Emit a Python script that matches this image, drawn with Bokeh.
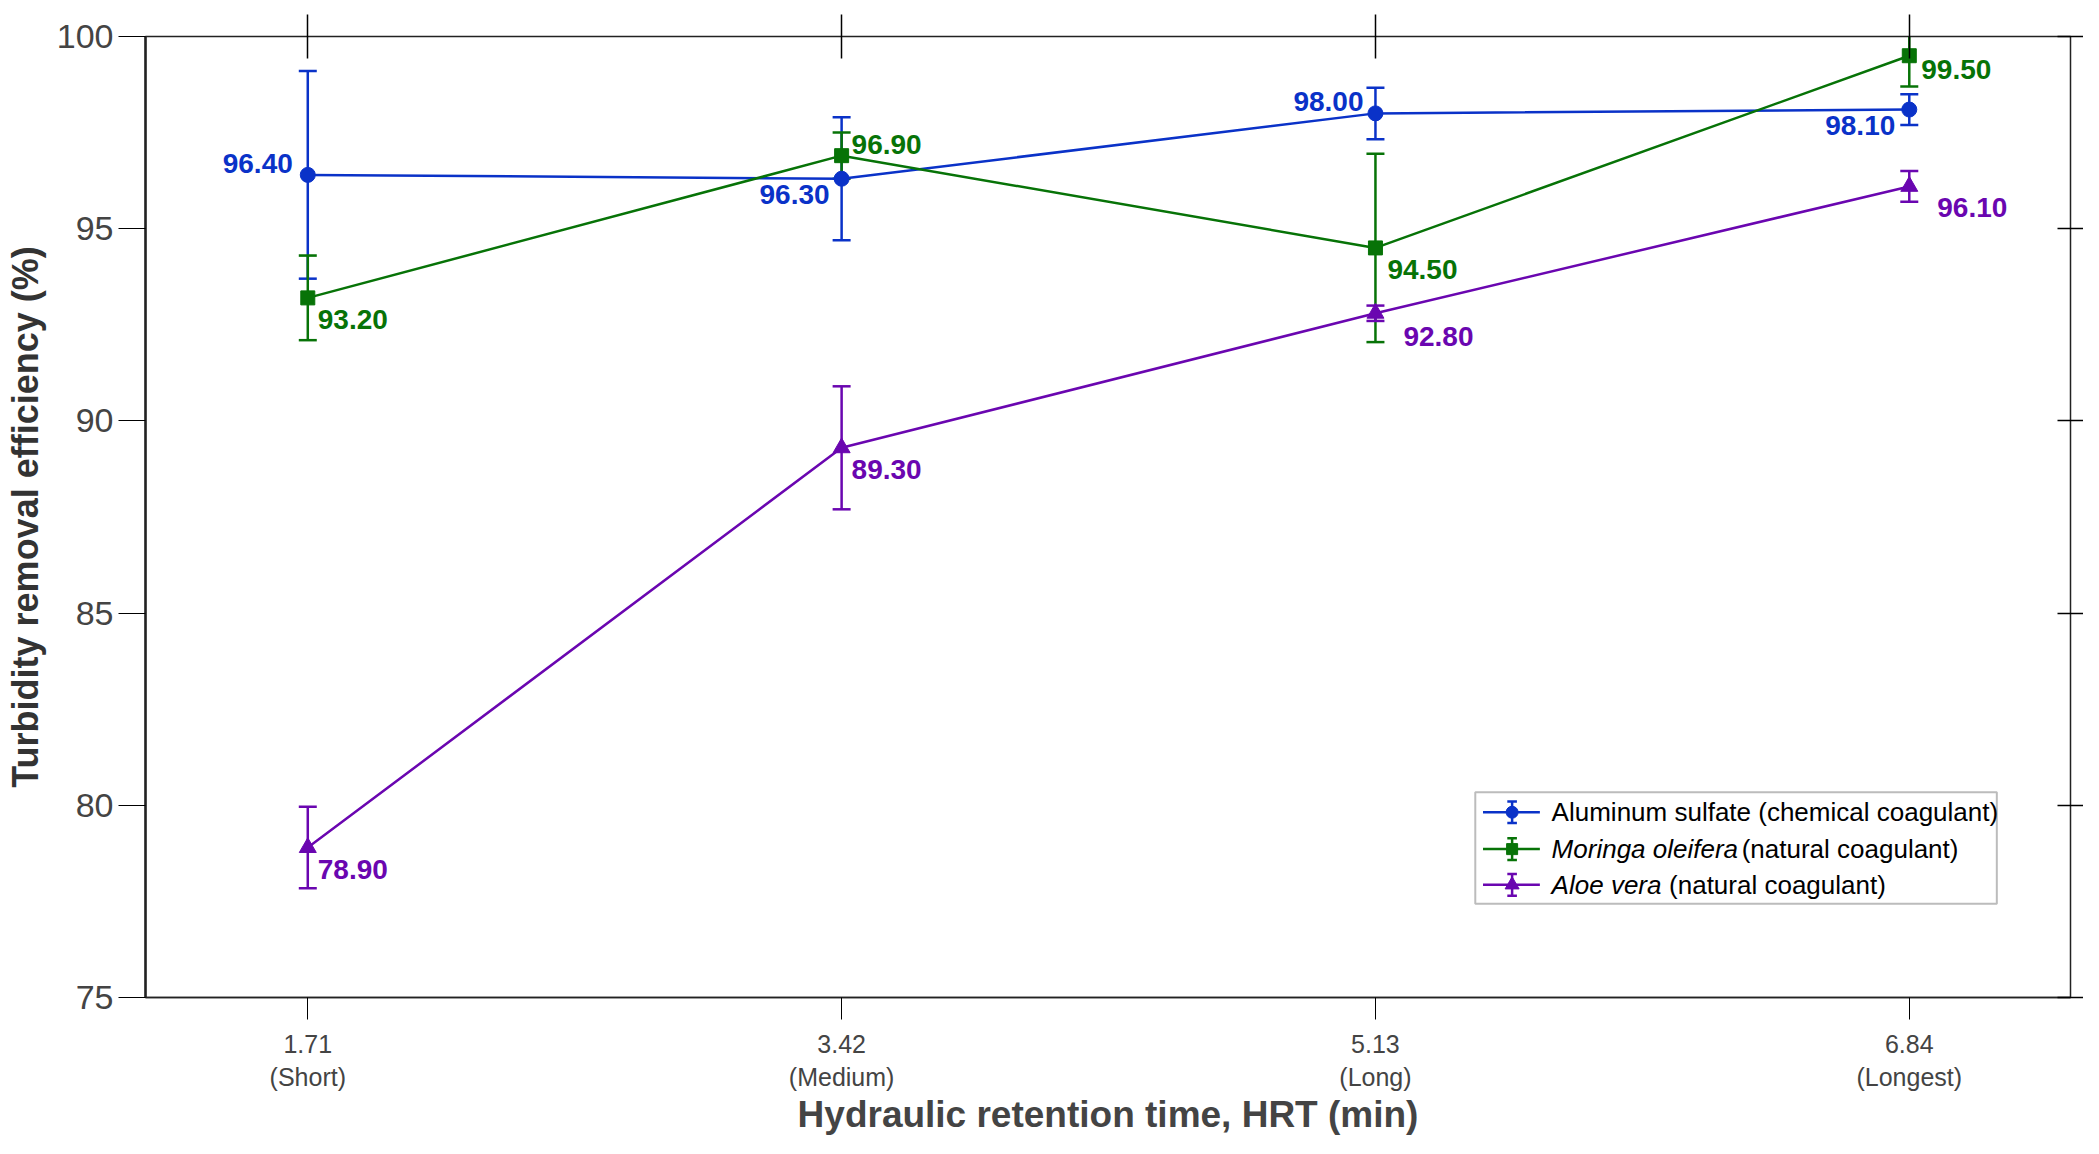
from bokeh.plotting import figure
from bokeh.models import LinearAxis, FixedTicker, ColumnDataSource, Whisker, BoxAnnotation, Range1d
from bokeh.core.properties import value
from bokeh.embed import file_html
from bokeh.resources import INLINE

hrt_labels = ["1.71\n(Short)", "3.42\n(Medium)", "5.13\n(Long)", "6.84\n(Longest)"]
xpos = [0, 1, 2, 3]
alum = [96.4, 96.3, 98.0, 98.1]
alum_err = [2.7, 1.6, 0.67, 0.4]
moringa = [93.2, 96.9, 94.5, 99.5]
moringa_err = [1.1, 0.6, 2.45, 0.8]
aloe = [78.9, 89.3, 92.8, 96.1]
aloe_err = [1.06, 1.6, 0.2, 0.4]

FONT = "Liberation Sans"
p = figure(width=2083, height=1138, output_backend="svg", toolbar_location=None,
           x_range=Range1d(-0.304, 3.302), y_range=Range1d(75, 100),
           min_border_left=145, min_border_right=4, min_border_top=36, min_border_bottom=2)
p.grid.visible = False
p.outline_line_color = "#222222"
p.outline_line_width = 1.5

series = [
    ("alum", alum, alum_err, "#0a32c8", "circle", 15, [(-15, 2, "right", "bottom"), (-12, -6, "right", "top"), (-12, 2, "right", "bottom"), (-14, -6, "right", "top")]),
    ("mor", moringa, moringa_err, "#077307", "square", 14, [(10, -12, "left", "top"), (10, 2, "left", "bottom"), (12, -12, "left", "top"), (12, -4, "left", "top")]),
    ("aloe", aloe, aloe_err, "#6a06b0", "triangle", 17, [(10, -12, "left", "top"), (10, -12, "left", "top"), (28, -14, "left", "top"), (28, -12, "left", "top")]),
]
for name, ys, err, col, mk, sz, offs in series:
    src = ColumnDataSource(dict(x=xpos, y=ys, lo=[a - b for a, b in zip(ys, err)], hi=[a + b for a, b in zip(ys, err)],
                                t=["%.2f" % v for v in ys], xo=[o[0] for o in offs], yo=[-o[1] for o in offs],
                                ta=[o[2] for o in offs], tb=[o[3] for o in offs]))
    p.line("x", "y", source=src, line_color=col, line_width=2.5)
    w = Whisker(base="x", lower="lo", upper="hi", source=src, line_color=col, line_width=2.5)
    w.upper_head.size = 18; w.lower_head.size = 18
    w.upper_head.line_color = col; w.lower_head.line_color = col
    w.upper_head.line_width = 2.5; w.lower_head.line_width = 2.5
    p.add_layout(w)
    p.scatter("x", "y", source=src, marker=mk, size=sz, color=col)
    p.text("x", "y", text="t", source=src, x_offset="xo", y_offset="yo", text_align="ta", text_baseline="tb",
           text_color=col, text_font=value(FONT), text_font_style="bold", text_font_size="28px")

ax = p.xaxis[0]
ax.ticker = FixedTicker(ticks=xpos)
ax.major_label_overrides = {i: l for i, l in zip(xpos, hrt_labels)}
ax.major_label_text_font = FONT
ax.major_label_text_font_size = "25px"
ax.major_label_standoff = 10
ax.major_tick_out = 22; ax.major_tick_in = 0
ax.minor_tick_line_color = None
ax.axis_line_color = "#222222"; ax.axis_line_width = 1.5
ax.axis_label = "Hydraulic retention time, HRT (min)"
ax.axis_label_text_font = FONT; ax.axis_label_text_font_style = "bold"
ax.axis_label_text_font_size = "37px"; ax.axis_label_text_color = "#444444"
ax.axis_label_standoff = 0

ay = p.yaxis[0]
ay.ticker = FixedTicker(ticks=[75, 80, 85, 90, 95, 100])
ay.major_label_text_font = FONT; ay.major_label_text_font_size = "34px"
ay.major_label_text_color = "#444444"
ay.major_tick_out = 27; ay.major_tick_in = 0
ay.minor_tick_line_color = None
ay.axis_line_color = "#222222"; ay.axis_line_width = 2.5
ay.axis_label = "Turbidity removal efficiency (%)"
ay.axis_label_text_font = FONT; ay.axis_label_text_font_style = "bold"
ay.axis_label_text_font_size = "36px"; ay.axis_label_text_color = "#333333"
ay.axis_label_standoff = 8

top = LinearAxis(ticker=FixedTicker(ticks=xpos), major_label_text_font_size="0px",
                 major_tick_in=22, major_tick_out=22, minor_tick_line_color=None,
                 axis_line_color="#222222", major_tick_line_width=1.5)
p.add_layout(top, "above")
right = LinearAxis(ticker=FixedTicker(ticks=[75, 80, 85, 90, 95, 100]), major_label_text_font_size="0px",
                   major_tick_in=13, major_tick_out=13, minor_tick_line_color=None,
                   axis_line_color="#222222", major_tick_line_width=1.5)
p.add_layout(right, "right")

p.add_layout(BoxAnnotation(left=2.187, right=3.164, bottom=77.44, top=80.34, fill_color="white", fill_alpha=1,
                           line_color="#222222", line_width=2, level="underlay"))
legend_rows = [
    (79.82, "#0a32c8", "circle", 12, "", "Aluminum sulfate (chemical coagulant)", 0),
    (78.86, "#077307", "square", 11, "Moringa oleifera", "(natural coagulant)", 2.686),
    (77.93, "#6a06b0", "triangle", 14, "Aloe vera", "(natural coagulant)", 2.55),
]
LX = 2.330
for yy, col, mk, sz, ital, norm, nx in legend_rows:
    p.line([2.2015, 2.308], [yy, yy], line_color=col, line_width=2.5)
    p.segment([2.256], [yy - 0.28], [2.256], [yy + 0.28], line_color=col, line_width=2.5)
    p.segment([2.247, 2.247], [yy - 0.28, yy + 0.28], [2.265, 2.265], [yy - 0.28, yy + 0.28], line_color=col, line_width=2.5)
    p.scatter([2.256], [yy], marker=mk, size=sz, color=col)
    if ital:
        p.text([LX], [yy], text=[ital], text_font=value(FONT), text_font_style="italic", text_font_size="26px",
               text_baseline="middle", text_color="black")
        p.text([nx], [yy], text=[norm], text_font=value(FONT), text_font_size="26px", text_baseline="middle", text_color="black")
    else:
        p.text([LX], [yy], text=[norm], text_font=value(FONT), text_font_size="26px", text_baseline="middle", text_color="black")

open("out.html", "w").write(file_html(p, INLINE))
